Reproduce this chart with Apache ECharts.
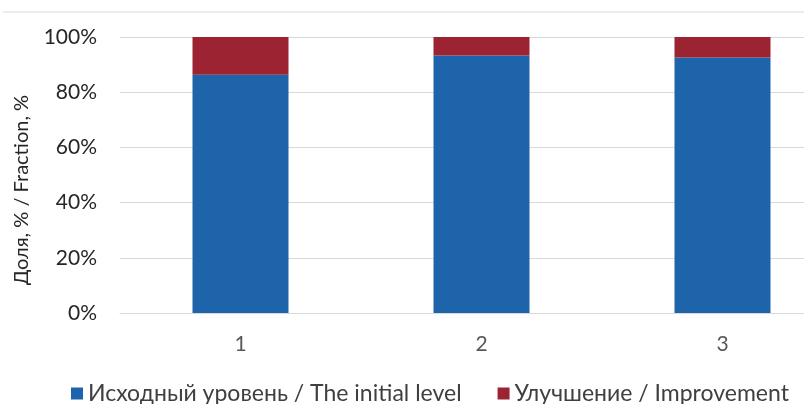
<!DOCTYPE html>
<html>
<head>
<meta charset="utf-8">
<script src="https://cdn.jsdelivr.net/npm/echarts@6/dist/echarts.min.js"></script>
<style>
  html, body { margin: 0; padding: 0; background: #fff; }
  #main { width: 804px; height: 404px; }
</style>
</head>
<body>
<div id="main"></div>
<script>
// данные с картинки
var categories = ['1', '2', '3'];
var initialLevel = [86.3, 93.3, 92.6];
var improvement = [13.7, 6.7, 7.4];
var seriesNames = ['Исходный уровень / The initial level', 'Улучшение / Improvement'];
var yTicks = [0, 20, 40, 60, 80, 100];

var font = 'Lato, "Open Sans", sans-serif';
var grey = '#595959';

var myChart = echarts.init(document.getElementById('main'));
var options = {
    animation: false,
    textStyle: { fontFamily: font },
    color: ['#1E64AA', '#9B2332'],
    graphic: [{
        // верхняя граница рамки
        type: 'line',
        shape: { x1: 3, y1: 12, x2: 804, y2: 12 },
        style: { stroke: '#d9d9d9', lineWidth: 1 }
    }],
    // область графика выходит за правый край картинки
    grid: { left: 120, top: 37, width: 723, height: 276, outerBoundsMode: 'none', containLabel: false },
    legend: {
        data: seriesNames,
        left: 66,
        top: 377,
        itemWidth: 12,
        itemHeight: 12,
        itemGap: 36,
        icon: 'rect',
        textStyle: { fontFamily: font, fontSize: 23, color: '#404040' }
    },
    xAxis: {
        type: 'category',
        data: categories,
        axisLine: { lineStyle: { color: '#d9d9d9', width: 1 } },
        axisTick: { show: false },
        axisLabel: { margin: 21, fontSize: 21, color: grey, fontFamily: font }
    },
    yAxis: {
        type: 'value',
        min: yTicks[0],
        max: yTicks[yTicks.length - 1],
        interval: 20,
        name: 'Доля, % / Fraction, %',
        nameLocation: 'middle',
        nameRotate: 90,
        nameGap: 88,
        nameTextStyle: { fontSize: 20, color: '#262626', fontFamily: font, padding: [0, 30, 0, 0] },
        axisLine: { show: false },
        axisTick: { show: false },
        axisLabel: { margin: 23, fontSize: 21, color: '#262626', fontFamily: font, formatter: '{value}%' },
        splitLine: { lineStyle: { color: '#d9d9d9', width: 1 } }
    },
    series: [
        { name: seriesNames[0], type: 'bar', stack: 'total', barWidth: 96, data: initialLevel },
        { name: seriesNames[1], type: 'bar', stack: 'total', barWidth: 96, data: improvement }
    ]
};
myChart.setOption(options);
</script>
</body>
</html>
